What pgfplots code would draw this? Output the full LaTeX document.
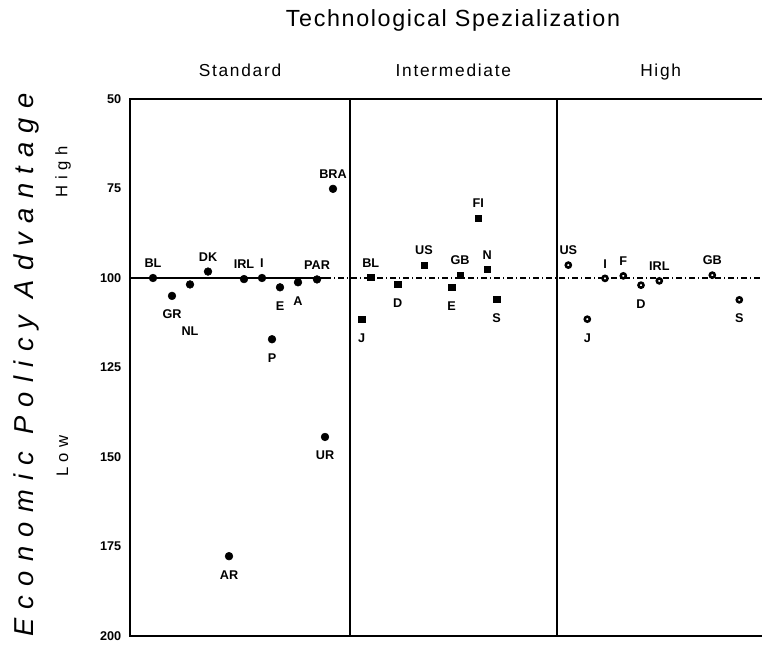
\documentclass[border=0pt]{standalone}
\usepackage{fontspec}
\setmainfont{Liberation Sans}
\usepackage{pgfplots}
\pgfplotsset{compat=1.18}
\usepackage{pgfplotstable}

% x = horizontal position (0 = left axis line), y = index value
% Standard (labels above / below / far below)
\pgfplotstableread{
x y lab
23 100.0 BL
78 98.2 DK
114 100.3 IRL
132 100.0 I
187 100.4 PAR
203 75.1 BRA
}\stdA
\pgfplotstableread{
x y lab
42 105.0 GR
150 102.6 E
142 117.1 P
168 101.2 A
195 144.4 UR
99 177.7 AR
}\stdB
\pgfplotstableread{
x y lab
60 101.8 NL
}\stdC
% Intermediate
\pgfplotstableread{
x y lab
240.7 99.8 BL
294 96.4 US
330 99.2 GB
357.3 97.6 N
348.3 83.2 FI
}\intA
\pgfplotstableread{
x y lab
267.7 101.8 D
321.7 102.6 E
366.7 105.9 S
231.7 111.5 J
}\intB
% High
\pgfplotstableread{
x y lab
438.3 96.4 US
475 100.1 I
493.3 99.4 F
529.3 100.8 IRL
582.3 99.2 GB
}\highA
\pgfplotstableread{
x y lab
457.3 111.5 J
511 102.0 D
609.3 106.1 S
}\highB

\pgfplotsset{
  lab/.style={point meta=explicit symbolic, nodes near coords,
    every node near coord/.append style={anchor=center, inner sep=0pt,
      font=\bfseries\fontsize{9.5}{11}\selectfont, yshift=#1}},
  stdmark/.style={only marks, mark=*, mark size=2.9pt, black},
  intmark/.style={only marks, mark=square*, mark size=2.3pt, black},
  highmark/.style={only marks, mark=*, mark size=1.9pt, black,
    mark options={fill=white, draw=black, line width=1.9pt}},
}

\begin{document}
\begin{tikzpicture}
\useasboundingbox (0pt,0pt) rectangle (571.5pt,486.75pt);
\begin{axis}[
  at={(336.75pt,211.125pt)}, anchor=center,
  scale only axis, width=478.5pt, height=402.75pt,
  xmin=0, xmax=638, ymin=50, ymax=200, y dir=reverse,
  xtick=\empty, ytick={50,75,100,125,150,175,200},
  major tick length=0pt,
  axis line style={line width=1.5pt},
  /pgf/number format/assume math mode=true,
  yticklabel style={font=\bfseries\fontsize{9.5}{10}\selectfont, xshift=-3pt},
]
% dividers
\addplot[black, line width=1.6pt, no marks] coordinates {(220,50) (220,200)};
\addplot[black, line width=1.6pt, no marks] coordinates {(427,50) (427,200)};
% reference line at 100
\addplot[black, line width=0.8pt, no marks] coordinates {(0,100) (195,100)};
\addplot[black, line width=0.8pt, no marks, dash pattern=on 4.5pt off 2.25pt on 0.75pt off 2.25pt] coordinates {(195,100) (638,100)};
% Standard
\addplot[stdmark, lab=10.9pt] table[meta=lab] {\stdA};
\addplot[stdmark, lab=-13.9pt] table[meta=lab] {\stdB};
\addplot[stdmark, lab=-35pt] table[meta=lab] {\stdC};
% Intermediate
\addplot[intmark, lab=10.9pt] table[meta=lab] {\intA};
\addplot[intmark, lab=-13.9pt] table[meta=lab] {\intB};
% High
\addplot[highmark, lab=10.9pt] table[meta=lab] {\highA};
\addplot[highmark, lab=-13.9pt] table[meta=lab] {\highB};
\end{axis}
% titles
\node[anchor=base, font=\fontsize{17.5}{20}\selectfont\addfontfeature{LetterSpace=7}] at (339.75pt,466.5pt) {Technological Spezialization};
\node[anchor=base, font=\fontsize{13}{15}\selectfont\addfontfeature{LetterSpace=10}] at (180pt,429pt) {Standard};
\node[anchor=base, font=\fontsize{13}{15}\selectfont\addfontfeature{LetterSpace=10}] at (340pt,429pt) {Intermediate};
\node[anchor=base, font=\fontsize{13}{15}\selectfont\addfontfeature{LetterSpace=10}] at (495.5pt,429pt) {High};
% y-axis titles
\node[anchor=base, rotate=90, font=\itshape\fontsize{20.5}{22}\selectfont\addfontfeature{LetterSpace=34}] at (24.75pt,213pt) {Economic Policy Advantage};
\node[anchor=base, rotate=90, font=\fontsize{12.5}{14}\selectfont\addfontfeature{LetterSpace=33}] at (50.5pt,357.75pt) {High};
\node[anchor=base, rotate=90, font=\fontsize{12.5}{14}\selectfont\addfontfeature{LetterSpace=33}] at (51pt,144.75pt) {Low};
\end{tikzpicture}
\end{document}
